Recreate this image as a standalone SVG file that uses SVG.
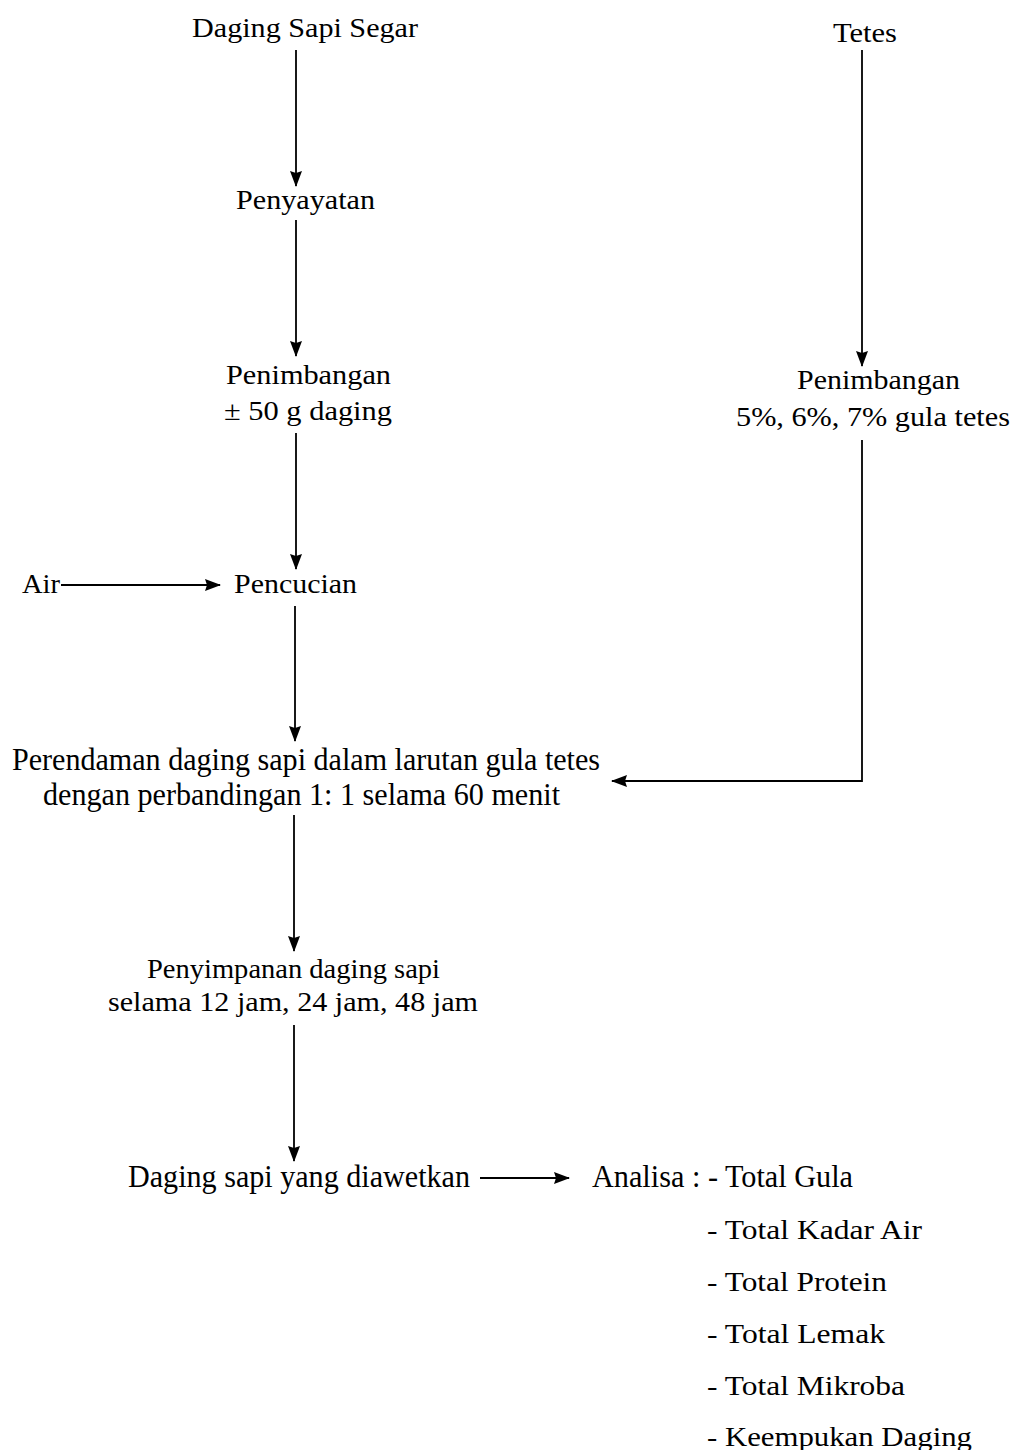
<svg xmlns="http://www.w3.org/2000/svg" width="1014" height="1450" viewBox="0 0 1014 1450">
<style>
text{font-family:"Liberation Serif","Times New Roman",serif;font-size:28px;fill:#000}
.big{font-size:31px}
.ln{stroke:#000;stroke-width:1.8;fill:none}
</style>
<defs>
<marker id="ah" markerWidth="16" markerHeight="12" refX="15" refY="6" orient="auto" markerUnits="userSpaceOnUse">
<path d="M0,0 L16,6 L0,12 L2,6 Z" fill="#000"/>
</marker>
</defs>
<rect width="1014" height="1450" fill="#fff"/>
<g id="connectors">
<line class="ln" x1="296" y1="50" x2="296" y2="186" marker-end="url(#ah)"/>
<line class="ln" x1="296" y1="220" x2="296" y2="356" marker-end="url(#ah)"/>
<line class="ln" x1="296" y1="433" x2="296" y2="569" marker-end="url(#ah)"/>
<line class="ln" x1="61" y1="585" x2="220" y2="585" marker-end="url(#ah)"/>
<line class="ln" x1="295" y1="606" x2="295" y2="741" marker-end="url(#ah)"/>
<line class="ln" x1="862" y1="50" x2="862" y2="366" marker-end="url(#ah)"/>
<polyline class="ln" points="862,440 862,781 612,781" marker-end="url(#ah)"/>
<line class="ln" x1="294" y1="815" x2="294" y2="951" marker-end="url(#ah)"/>
<line class="ln" x1="294" y1="1025" x2="294" y2="1161" marker-end="url(#ah)"/>
<line class="ln" x1="480" y1="1178" x2="569" y2="1178" marker-end="url(#ah)"/>
</g>
<g id="n-daging-segar"><text x="192" y="37" textLength="226" lengthAdjust="spacingAndGlyphs">Daging Sapi Segar</text></g>
<g id="n-tetes"><text x="833" y="42" textLength="64" lengthAdjust="spacingAndGlyphs">Tetes</text></g>
<g id="n-penyayatan"><text x="236" y="209" textLength="139" lengthAdjust="spacingAndGlyphs">Penyayatan</text></g>
<g id="n-penimbangan-daging"><text x="226" y="384" textLength="165" lengthAdjust="spacingAndGlyphs">Penimbangan</text><text x="224" y="420" textLength="168" lengthAdjust="spacingAndGlyphs">± 50 g daging</text></g>
<g id="n-penimbangan-tetes"><text x="797" y="389" textLength="163" lengthAdjust="spacingAndGlyphs">Penimbangan</text><text x="736" y="426" textLength="274" lengthAdjust="spacingAndGlyphs">5%, 6%, 7% gula tetes</text></g>
<g id="n-air"><text x="22" y="593" textLength="38" lengthAdjust="spacingAndGlyphs">Air</text></g>
<g id="n-pencucian"><text x="234" y="593" textLength="123" lengthAdjust="spacingAndGlyphs">Pencucian</text></g>
<g id="n-perendaman"><text class="big" x="12" y="770" textLength="588" lengthAdjust="spacingAndGlyphs">Perendaman daging sapi dalam larutan gula tetes</text><text class="big" x="43" y="805" textLength="517" lengthAdjust="spacingAndGlyphs">dengan perbandingan 1: 1 selama 60 menit</text></g>
<g id="n-penyimpanan"><text x="147" y="978" textLength="293" lengthAdjust="spacingAndGlyphs">Penyimpanan daging sapi</text><text x="108" y="1011" textLength="370" lengthAdjust="spacingAndGlyphs">selama 12 jam, 24 jam, 48 jam</text></g>
<g id="n-diawetkan"><text class="big" x="128" y="1187" textLength="342" lengthAdjust="spacingAndGlyphs">Daging sapi yang diawetkan</text></g>
<g id="n-analisa">
<text class="big" x="592" y="1187" textLength="261" lengthAdjust="spacingAndGlyphs">Analisa : - Total Gula</text>
<text x="707" y="1239" textLength="215" lengthAdjust="spacingAndGlyphs">-  Total Kadar Air</text>
<text x="707" y="1291" textLength="180" lengthAdjust="spacingAndGlyphs">-  Total Protein</text>
<text x="707" y="1343" textLength="178" lengthAdjust="spacingAndGlyphs">-  Total Lemak</text>
<text x="707" y="1395" textLength="198" lengthAdjust="spacingAndGlyphs">-  Total Mikroba</text>
<text x="707" y="1446" textLength="265" lengthAdjust="spacingAndGlyphs">-  Keempukan Daging</text>
</g>
</svg>
